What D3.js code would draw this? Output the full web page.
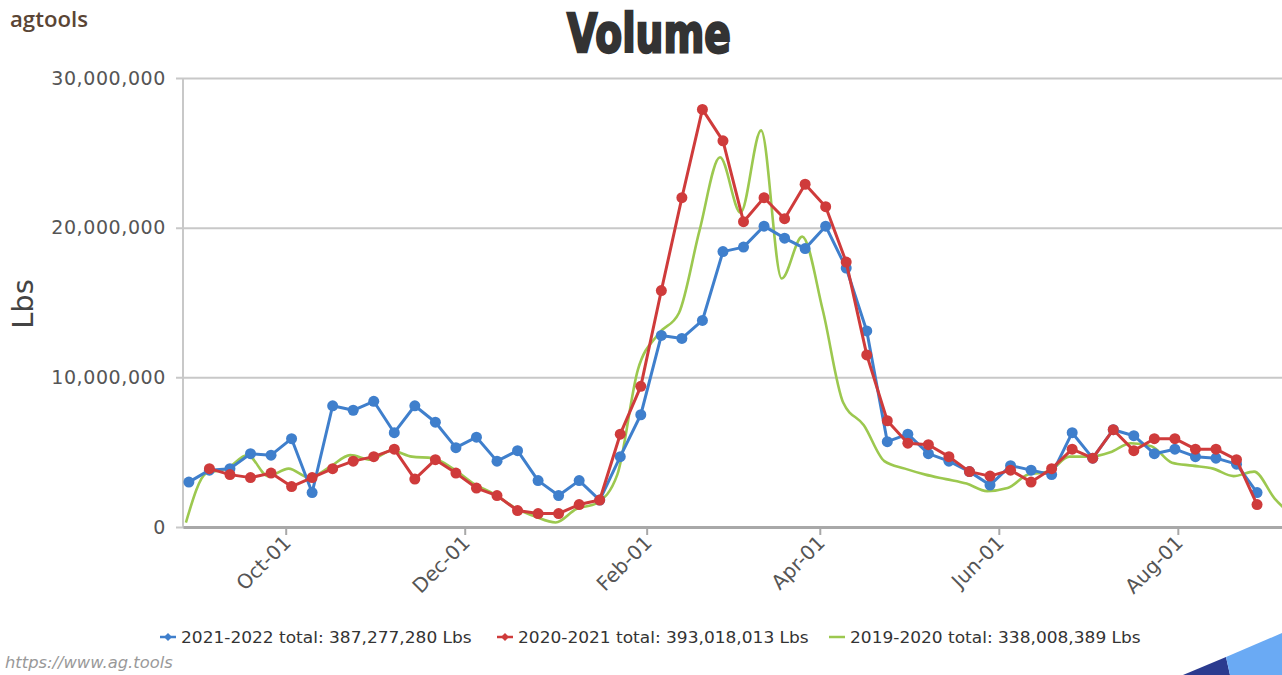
<!DOCTYPE html>
<html>
<head>
<meta charset="utf-8">
<script src="https://cdn.jsdelivr.net/npm/d3@7"></script>
<style>
  html, body { margin: 0; padding: 0; background: #fff; }
  svg { display: block; }
</style>
</head>
<body>
<svg id="chart" width="1282" height="675"></svg>
<script>
// Weekly shipment volume (Lbs) by season, plotted on a Sep–Aug axis.
const weeks = [
  "2021-08-29","2021-09-05","2021-09-12","2021-09-19","2021-09-26","2021-10-03","2021-10-10",
  "2021-10-17","2021-10-24","2021-10-31","2021-11-07","2021-11-14","2021-11-21","2021-11-28",
  "2021-12-05","2021-12-12","2021-12-19","2021-12-26","2022-01-02","2022-01-09","2022-01-16",
  "2022-01-23","2022-01-30","2022-02-06","2022-02-13","2022-02-20","2022-02-27","2022-03-06",
  "2022-03-13","2022-03-20","2022-03-27","2022-04-03","2022-04-10","2022-04-17","2022-04-24",
  "2022-05-01","2022-05-08","2022-05-15","2022-05-22","2022-05-29","2022-06-05","2022-06-12",
  "2022-06-19","2022-06-26","2022-07-03","2022-07-10","2022-07-17","2022-07-24","2022-07-31",
  "2022-08-07","2022-08-14","2022-08-21","2022-08-28"
];

// 2021-2022, millions of Lbs, one value per week above
const season2122 = [
  3.0, 3.8, 3.9, 4.9, 4.8, 5.9, 2.3, 8.1, 7.8, 8.4, 6.3, 8.1, 7.0, 5.3,
  6.0, 4.4, 5.1, 3.1, 2.1, 3.1, 1.8, 4.7, 7.5, 12.8, 12.6, 13.8, 18.4, 18.7,
  20.1, 19.3, 18.6, 20.1, 17.3, 13.1, 5.7, 6.2, 4.9, 4.4, 3.7, 2.8, 4.1, 3.8,
  3.5, 6.3, 4.6, 6.5, 6.1, 4.9, 5.2, 4.7, 4.6, 4.2, 2.3
];

// 2020-2021, millions of Lbs (no value for the first week)
const season2021 = [
  null, 3.9, 3.5, 3.3, 3.6, 2.7, 3.3, 3.9, 4.4, 4.7, 5.2, 3.2, 4.5, 3.6,
  2.6, 2.1, 1.1, 0.9, 0.9, 1.5, 1.8, 6.2, 9.4, 15.8, 22.0, 27.9, 25.8, 20.4,
  22.0, 20.6, 22.9, 21.4, 17.7, 11.5, 7.1, 5.6, 5.5, 4.7, 3.7, 3.4, 3.8, 3.0,
  3.9, 5.2, 4.6, 6.5, 5.1, 5.9, 5.9, 5.2, 5.2, 4.5, 1.5
];

// 2019-2020 weeks, mapped onto the same month/day axis
const weeks1920 = [
  "2021-08-28","2021-09-04","2021-09-11","2021-09-18","2021-09-25","2021-10-02","2021-10-09",
  "2021-10-16","2021-10-23","2021-10-30","2021-11-06","2021-11-13","2021-11-20","2021-11-27",
  "2021-12-04","2021-12-11","2021-12-18","2021-12-25","2022-01-01","2022-01-08","2022-01-15",
  "2022-01-22","2022-01-29","2022-02-05","2022-02-12","2022-02-19","2022-02-26","2022-03-05",
  "2022-03-12","2022-03-19","2022-03-26","2022-04-02","2022-04-09","2022-04-16","2022-04-23",
  "2022-04-30","2022-05-07","2022-05-14","2022-05-21","2022-05-28","2022-06-04","2022-06-11",
  "2022-06-18","2022-06-25","2022-07-02","2022-07-09","2022-07-16","2022-07-23","2022-07-30",
  "2022-08-06","2022-08-13","2022-08-20","2022-08-27","2022-09-03","2022-09-10"
];
const season1920 = [
  0.3, 3.6, 3.9, 4.8, 3.4, 3.9, 3.3, 4.0, 4.8, 4.5, 5.1, 4.7, 4.6, 3.9,
  2.9, 2.2, 1.3, 0.7, 0.3, 1.2, 1.6, 3.5, 10.5, 12.9, 14.3, 19.8, 24.7, 21.0,
  26.5, 16.6, 19.4, 14.5, 8.3, 6.8, 4.4, 3.9, 3.5, 3.2, 2.9, 2.4, 2.6, 3.5,
  3.7, 4.7, 4.7, 5.0, 5.6, 5.4, 4.3, 4.1, 3.9, 3.4, 3.7, 1.9, 0.6
];

const seriesNames = ["2021-2022", "2020-2021", "2019-2020"];
const seriesTotals = ["387,277,280", "393,018,013", "338,008,389"];
const seriesColors = ["#3f7fcc", "#cf3b3b", "#9cc84f"];

const yTicks = [0, 10000000, 20000000, 30000000];
const xTickDates = ["2021-10-01","2021-12-01","2022-02-01","2022-04-01","2022-06-01","2022-08-01"];
const xDomain = ["2021-08-27T00:00", "2022-09-05T12:00"];

const parse = d3.timeParse("%Y-%m-%d");
const parseT = d3.timeParse("%Y-%m-%dT%H:%M");

const svg = d3.select("#chart");
const plot = { left: 183, right: 1282, top: 78, bottom: 527 };

const x = d3.scaleTime()
  .domain(xDomain.map(parseT))
  .range([plot.left, plot.right]);
const y = d3.scaleLinear()
  .domain([0, 30000000])
  .range([plot.bottom, plot.top]);

const M = 1e6;
const toPoints = (dates, vals) => dates.map((d, i) => ({ date: parse(d), v: vals[i] == null ? null : vals[i] * M }));
const blue = toPoints(weeks, season2122);
const red = toPoints(weeks, season2021);
const green = toPoints(weeks1920, season1920);

svg.append("defs").append("clipPath").attr("id", "plotClip")
  .append("rect")
  .attr("x", plot.left).attr("y", plot.top - 10)
  .attr("width", plot.right - plot.left).attr("height", plot.bottom - plot.top + 10);

// squeeze a text element horizontally to a given width, keeping its anchor point
function fitWidth(sel, width, ax) {
  const w = sel.node().getBBox().width;
  const s = width / w;
  sel.attr("transform", `translate(${ax},0) scale(${s},1) translate(${-ax},0)`);
}

// header
const brand = svg.append("text")
  .attr("x", 10).attr("y", 27)
  .attr("font-family", "'Open Sans', sans-serif")
  .attr("font-weight", 600)
  .attr("font-size", 22)
  .attr("fill", "#5a4535")
  .text("agtools");
fitWidth(brand, 78, 10);

const title = svg.append("text")
  .attr("x", 649).attr("y", 52)
  .attr("text-anchor", "middle")
  .attr("font-family", "'DejaVu Sans', sans-serif")
  .attr("font-weight", 700)
  .attr("font-size", 53)
  .attr("fill", "#333")
  .attr("stroke", "#333")
  .attr("stroke-width", 2.5)
  .text("Volume");
fitWidth(title, 164, 649);

// y gridlines + labels
const yAxis = d3.axisLeft(y)
  .tickValues(yTicks)
  .tickSize(-(plot.right - plot.left) - 7)
  .tickPadding(10)
  .tickFormat(d3.format(","));
const gy = svg.append("g")
  .attr("transform", `translate(${plot.left - 7},0)`)
  .call(yAxis);
gy.select(".domain").remove();
gy.selectAll(".tick line")
  .attr("stroke", "#c8c8c8")
  .attr("stroke-width", 2);
gy.selectAll(".tick text")
  .attr("font-family", "'DejaVu Sans', sans-serif")
  .attr("font-size", 19)
  .attr("fill", "#555")
  .attr("letter-spacing", 0.6);

// left axis line
svg.append("line")
  .attr("x1", plot.left).attr("x2", plot.left)
  .attr("y1", plot.top).attr("y2", plot.bottom)
  .attr("stroke", "#c8c8c8").attr("stroke-width", 2);

// y title
svg.append("text")
  .attr("transform", `translate(33,304) rotate(-90)`)
  .attr("text-anchor", "middle")
  .attr("font-family", "'DejaVu Sans', sans-serif")
  .attr("font-size", 29)
  .attr("fill", "#444")
  .text("Lbs");

// x axis
const xAxis = d3.axisBottom(x)
  .tickValues(xTickDates.map(parse))
  .tickSize(8)
  .tickSizeOuter(0)
  .tickFormat(d3.timeFormat("%b-%d"));
const gx = svg.append("g")
  .attr("transform", `translate(0,${plot.bottom})`)
  .call(xAxis);
gx.select(".domain").attr("stroke", "#a8a8a8").attr("stroke-width", 3);
gx.selectAll(".tick line").attr("stroke", "#a8a8a8").attr("stroke-width", 2);
gx.selectAll(".tick text")
  .attr("font-family", "'DejaVu Sans', sans-serif")
  .attr("font-size", 20)
  .attr("fill", "#555")
  .attr("text-anchor", "end")
  .attr("dy", null)
  .attr("y", 0)
  .attr("transform", "translate(6,17) rotate(-45)");

// series lines
const lineStraight = d3.line()
  .defined(d => d.v != null)
  .x(d => x(d.date)).y(d => y(d.v));
const lineSmooth = d3.line()
  .curve(d3.curveMonotoneX)
  .x(d => x(d.date)).y(d => y(d.v));

const gPlot = svg.append("g").attr("clip-path", "url(#plotClip)");

gPlot.append("path").datum(green)
  .attr("d", lineSmooth)
  .attr("fill", "none")
  .attr("stroke", seriesColors[2])
  .attr("stroke-width", 2.6)
  .attr("stroke-linejoin", "round");

gPlot.append("path").datum(blue)
  .attr("d", lineStraight)
  .attr("fill", "none")
  .attr("stroke", seriesColors[0])
  .attr("stroke-width", 3)
  .attr("stroke-linejoin", "round");
gPlot.append("g").selectAll("circle")
  .data(blue.filter(d => d.v != null))
  .join("circle")
  .attr("cx", d => x(d.date)).attr("cy", d => y(d.v))
  .attr("r", 5.5)
  .attr("fill", seriesColors[0]);

gPlot.append("path").datum(red)
  .attr("d", lineStraight)
  .attr("fill", "none")
  .attr("stroke", seriesColors[1])
  .attr("stroke-width", 3)
  .attr("stroke-linejoin", "round");
gPlot.append("g").selectAll("circle")
  .data(red.filter(d => d.v != null))
  .join("circle")
  .attr("cx", d => x(d.date)).attr("cy", d => y(d.v))
  .attr("r", 5.5)
  .attr("fill", seriesColors[1]);

// legend
const legend = svg.append("g").attr("transform", "translate(160,637)");
const legendX = [0, 337, 669];
seriesNames.forEach((name, i) => {
  const g = legend.append("g").attr("transform", `translate(${legendX[i]},0)`);
  g.append("line")
    .attr("x1", 0).attr("x2", 16).attr("y1", 0).attr("y2", 0)
    .attr("stroke", seriesColors[i]).attr("stroke-width", 2.5);
  if (i < 2) {
    g.append("path")
      .attr("d", d3.symbol(d3.symbolDiamond2, 40)())
      .attr("transform", "translate(8,0)")
      .attr("fill", seriesColors[i]);
  }
  const t = g.append("text")
    .attr("x", 21).attr("y", 0).attr("dy", "0.35em")
    .attr("font-family", "'DejaVu Sans', sans-serif")
    .attr("font-size", 16)
    .attr("fill", "#333")
    .text(`${name} total: ${seriesTotals[i]} Lbs`);
  fitWidth(t, 291, 21);
});

// footer url
const url = svg.append("text")
  .attr("x", 5).attr("y", 668)
  .attr("font-family", "'DejaVu Sans', sans-serif")
  .attr("font-style", "italic")
  .attr("font-size", 15)
  .attr("fill", "#999")
  .text("https://www.ag.tools");
fitWidth(url, 168, 5);

// corner ribbon
svg.append("polygon")
  .attr("points", "1183,675 1226,657 1230,675")
  .attr("fill", "#2b3b8f");
svg.append("polygon")
  .attr("points", "1226,657 1282,633 1282,675 1230,675")
  .attr("fill", "#6aaaf4");
</script>
</body>
</html>
